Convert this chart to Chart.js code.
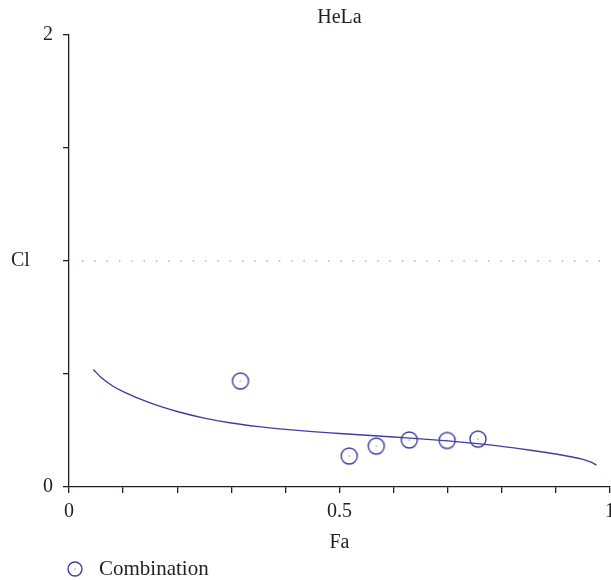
<!DOCTYPE html>
<html>
<head>
<meta charset="utf-8">
<script src="https://cdn.jsdelivr.net/npm/chart.js@4.4.1/dist/chart.umd.min.js"></script>
<style>
  html, body { margin: 0; padding: 0; background: #fff; overflow: hidden; }
  #wrap { width: 622px; height: 580px; }
</style>
</head>
<body>
<div id="wrap"><canvas id="graf"></canvas></div>
<script>
// valores (CI x Fa)
let fa_curva = [0.045, 0.06, 0.08, 0.1, 0.15, 0.2, 0.25, 0.3, 0.35, 0.4, 0.45, 0.5, 0.55, 0.6, 0.65, 0.7, 0.75, 0.8, 0.85, 0.9, 0.925, 0.95, 0.965, 0.975]
let ci_curva = [0.52, 0.483, 0.448, 0.422, 0.372, 0.334, 0.305, 0.283, 0.267, 0.255, 0.245, 0.237, 0.229, 0.221, 0.213, 0.204, 0.193, 0.18, 0.164, 0.146, 0.135, 0.122, 0.11, 0.097]

let fa_comb = [0.317, 0.518, 0.568, 0.629, 0.699, 0.756]
let ci_comb = [0.469, 0.137, 0.181, 0.208, 0.206, 0.212]

let fa_ref = [0.024, 1]
let ci_ref = [1, 1]

let rotulosX = { 0: '0', 0.5: '0.5', 1: '1' }
let rotulosY = { 0: '0', 2: '2' }

let azul = '#3f3fa2'
let texto = '#231f20'
let fonte = '"Liberation Serif", "DejaVu Serif", serif'

// simbolo do ponto: circulo com pontinho no meio
function fazSimbolo(r) {
    let c = document.createElement('canvas')
    c.width = 2 * r + 4
    c.height = 2 * r + 4
    let g = c.getContext('2d')
    g.strokeStyle = azul
    g.lineWidth = 1.4
    g.beginPath()
    g.arc(r + 2, r + 2, r, 0, Math.PI * 2)
    g.stroke()
    g.fillStyle = azul
    g.fillRect(r + 1.5, r + 1.5, 1, 1)
    return c
}
let simbolo = fazSimbolo(8)
let simboloLegenda = fazSimbolo(7)

function pares(xs, ys) {
    let out = []
    for (let i = 0; i < xs.length; i++) out.push({ x: xs[i], y: ys[i] })
    return out
}

function rotulo(mapa, v) {
    for (let k in mapa) {
        if (Math.abs(parseFloat(k) - v) < 1e-9) return mapa[k]
    }
    return ''
}

const textos = {
    id: 'textos',
    afterDraw(chart) {
        let ctx = chart.ctx
        let area = chart.chartArea
        ctx.save()
        ctx.fillStyle = texto
        ctx.font = '20px ' + fonte
        ctx.textBaseline = 'middle'
        ctx.textAlign = 'center'
        ctx.fillText('HeLa', (area.left + area.right) / 2, 18)
        ctx.textAlign = 'left'
        ctx.fillText('Cl', 11, chart.scales.y.getPixelForValue(1))
        // legenda
        ctx.drawImage(simboloLegenda, 75 - simboloLegenda.width / 2, 569 - simboloLegenda.height / 2)
        ctx.font = '21px ' + fonte
        ctx.fillText(chart.data.datasets[1].label, 99, 569)
        ctx.restore()
    }
}

Chart.defaults.font.family = fonte
Chart.defaults.font.size = 20
Chart.defaults.color = texto

const data = {
    datasets: [
        {
            label: 'Curva',
            type: 'line',
            data: pares(fa_curva, ci_curva),
            borderColor: azul,
            borderWidth: 1.4,
            pointRadius: 0,
            cubicInterpolationMode: 'monotone',
            fill: false
        },
        {
            label: 'Combination',
            type: 'scatter',
            data: pares(fa_comb, ci_comb),
            pointStyle: simbolo,
            pointRadius: 8,
            pointHoverRadius: 8
        },
        {
            label: 'Ref',
            type: 'line',
            data: pares(fa_ref, ci_ref),
            borderColor: '#b5b5b5',
            borderWidth: 1.5,
            borderDash: [1.5, 10.8],
            pointRadius: 0,
            fill: false
        }
    ]
}

const config = {
    type: 'scatter',
    data: data,
    options: {
        responsive: true,
        maintainAspectRatio: false,
        animation: false,
        layout: { padding: { top: 35, left: 0, right: 0, bottom: 22 } },
        plugins: {
            legend: { display: false },
            title: { display: false },
            tooltip: { enabled: false }
        },
        scales: {
            x: {
                type: 'linear',
                min: 0,
                max: 1,
                afterFit: s => { s.height = 71 },
                border: { color: texto, width: 1.3 },
                grid: { drawOnChartArea: false, drawTicks: true, tickLength: 6, color: texto, lineWidth: 1.3 },
                ticks: {
                    stepSize: 0.1,
                    padding: 7,
                    maxRotation: 0,
                    autoSkip: false,
                    callback: v => rotulo(rotulosX, v)
                },
                title: { display: true, text: 'Fa', padding: { top: 0, bottom: 3 } }
            },
            y: {
                type: 'linear',
                min: 0,
                max: 2,
                afterFit: s => { s.width = 69 },
                border: { color: texto, width: 1.3 },
                grid: { drawOnChartArea: false, drawTicks: true, tickLength: 6, color: texto, lineWidth: 1.3 },
                ticks: {
                    stepSize: 0.5,
                    padding: 10,
                    autoSkip: false,
                    callback: v => rotulo(rotulosY, v)
                }
            }
        }
    },
    plugins: [textos]
}

let meuGrafico = new Chart(document.getElementById('graf').getContext('2d'), config)
</script>
</body>
</html>
